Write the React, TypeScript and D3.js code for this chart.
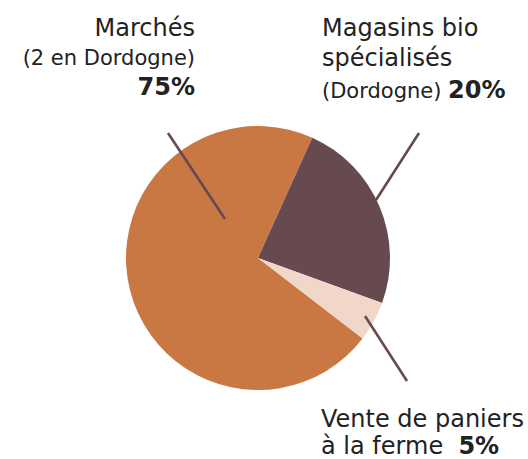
import React, { useEffect, useRef } from "react";
import * as d3 from "d3";

// slice sizes as drawn (the labels carry the published percentages)
const categories = ["Marchés", "Magasins bio", "Vente de paniers"];
const values = [71.3, 23.8, 4.9];
const pctLabels = ["75%", "20%", "5%"];
const colors = ["#C97843", "#664A50", "#F0D7C9"];

const width = 528;
const height = 459;
const cx = 258;
const cy = 258;
const radius = 132;
const font = "'DejaVu Sans', sans-serif";
const textColor = "#222222";
const lineColor = "#654A51";
const big = 24;
const small = 21;

export default function App() {
  const ref = useRef<SVGSVGElement>(null);

  useEffect(() => {
    const svg = d3.select(ref.current);
    svg.selectAll("*").remove();

    const start = (127.6 * Math.PI) / 180;
    const pie = d3
      .pie<number>()
      .sort(null)
      .startAngle(start)
      .endAngle(start + 2 * Math.PI);

    const arcs = pie(values);
    const arc = d3.arc<d3.PieArcDatum<number>>().innerRadius(0).outerRadius(radius);

    const g = svg.append("g").attr("transform", `translate(${cx},${cy})`);
    g.selectAll("path")
      .data(arcs)
      .join("path")
      .attr("d", arc)
      .attr("fill", (d, i) => colors[i]);

    // leader lines
    const leaders = [
      [168, 133, 225, 219],
      [376, 200, 419, 133],
      [365, 316, 407, 381],
    ];
    svg
      .selectAll("line")
      .data(leaders)
      .join("line")
      .attr("x1", (d) => d[0])
      .attr("y1", (d) => d[1])
      .attr("x2", (d) => d[2])
      .attr("y2", (d) => d[3])
      .attr("stroke", lineColor)
      .attr("stroke-width", 2.6);

    const txt = svg
      .append("g")
      .attr("font-family", font)
      .attr("fill", textColor);

    // Marchés
    txt.append("text").attr("x", 195).attr("y", 36).attr("text-anchor", "end")
      .attr("font-size", big).text(categories[0]);
    txt.append("text").attr("x", 195).attr("y", 65).attr("text-anchor", "end")
      .attr("font-size", small).text("(2 en Dordogne)");
    txt.append("text").attr("x", 195).attr("y", 95).attr("text-anchor", "end")
      .attr("font-size", big).attr("font-weight", 700).text(pctLabels[0]);

    // Magasins bio
    txt.append("text").attr("x", 322).attr("y", 36)
      .attr("font-size", big).text(categories[1]);
    txt.append("text").attr("x", 322).attr("y", 66)
      .attr("font-size", big).text("spécialisés");
    const t2 = txt.append("text").attr("x", 322).attr("y", 98);
    t2.append("tspan").attr("font-size", small).text("(Dordogne) ");
    t2.append("tspan").attr("font-size", big).attr("font-weight", 700).text(pctLabels[1]);

    // Vente de paniers
    txt.append("text").attr("x", 321).attr("y", 427)
      .attr("font-size", big).text(categories[2]);
    const t3 = txt.append("text").attr("x", 321).attr("y", 454)
      .attr("font-size", big).attr("xml:space", "preserve");
    t3.append("tspan").text("à la ferme  ");
    t3.append("tspan").attr("font-weight", 700).text(pctLabels[2]);
  }, []);

  return (
    <svg
      ref={ref}
      width={width}
      height={height}
      style={{ position: "absolute", left: 0, top: 0, background: "#fff" }}
    />
  );
}
